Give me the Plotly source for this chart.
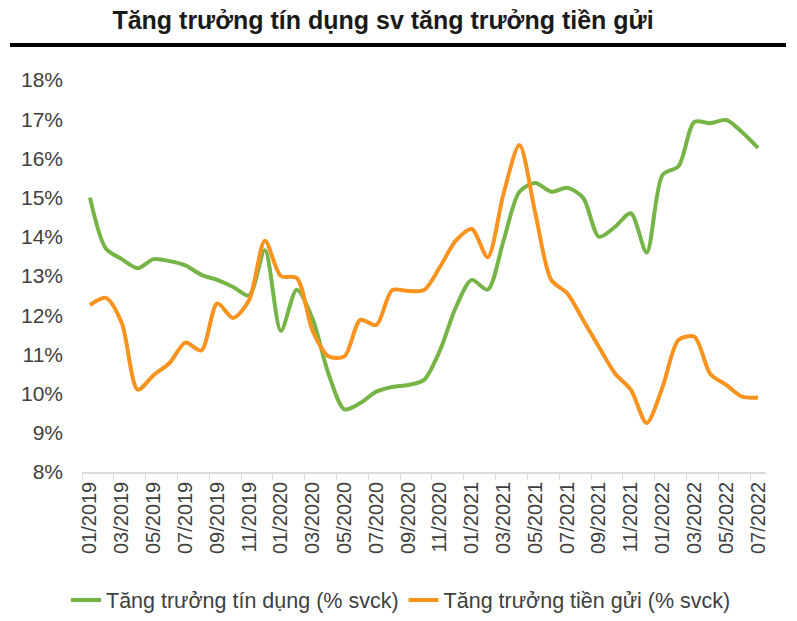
import plotly.graph_objects as go

months = []
for y in (2019, 2020, 2021, 2022):
    for m in range(1, 13):
        if y == 2022 and m > 7:
            break
        months.append(f"{m:02d}/{y}")

credit = [15.0, 13.7, 13.43, 13.2, 13.43, 13.38, 13.27, 13.03, 12.9, 12.72, 12.5, 13.66,
          11.6, 12.65, 11.9, 10.5, 9.6, 9.76, 10.05, 10.17, 10.22, 10.35, 11.1, 12.2,
          12.9, 12.65, 13.9, 15.15, 15.37, 15.15, 15.25, 15.0, 14.0, 14.25, 14.6, 13.6,
          15.58, 15.8, 16.93, 16.9, 16.98, 16.67, 16.27]
deposit = [12.26, 12.44, 11.8, 10.1, 10.47, 10.78, 11.3, 11.1, 12.3, 11.93, 12.38, 13.9,
           13.0, 12.95, 11.6, 10.95, 10.95, 11.88, 11.75, 12.64, 12.62, 12.64, 13.23, 13.9,
           14.2, 13.48, 15.1, 16.34, 14.6, 12.9, 12.56, 11.88, 11.19, 10.52, 10.1, 9.25,
           10.17, 11.37, 11.45, 10.5, 10.22, 9.92, 9.9]

name_credit = "Tăng trưởng tín dụng (% svck)"
name_deposit = "Tăng trưởng tiền gửi (% svck)"
title = "Tăng trưởng tín dụng sv tăng trưởng tiền gửi"

W, H = 797, 621
L, R, T, B = 82, 31, 80, 149
pw, ph = W - L - R, H - T - B

def px2x(px):
    return (px - L) / pw

def py2y(py):
    return (H - B - py) / ph

font = "Liberation Sans, Arial, sans-serif"

fig = go.Figure()
fig.add_trace(go.Scatter(x=months, y=credit, mode="lines", name=name_credit,
                         line=dict(color="#76B448", width=4, shape="spline", smoothing=0.8)))
fig.add_trace(go.Scatter(x=months, y=deposit, mode="lines", name=name_deposit,
                         line=dict(color="#F7931E", width=4, shape="spline", smoothing=0.8)))

fig.update_layout(
    width=W, height=H,
    margin=dict(l=L, r=R, t=T, b=B, autoexpand=False),
    paper_bgcolor="white", plot_bgcolor="white",
    font=dict(family=font, size=20, color="#404040"),
    title=dict(text=f"<b>{title}</b>", x=383 / W, xanchor="center",
               y=1 - 20 / H, yanchor="middle",
               font=dict(family=font, size=25, color="#1a1a1a")),
    showlegend=True,
    legend=dict(orientation="h", x=px2x(401), xanchor="center", y=py2y(600), yanchor="middle",
                font=dict(family=font, size=21.5, color="#404040"), itemwidth=30,
                tracegroupgap=0, bgcolor="rgba(0,0,0,0)"),
    xaxis=dict(type="category", tickmode="linear", dtick=2, tick0=0, automargin=False,
               tickson="boundaries", ticks="outside", ticklen=6, tickcolor="#d9d9d9",
               showline=True, linecolor="#d9d9d9", linewidth=1.5,
               showgrid=False, tickangle=-90, tickfont=dict(size=20, color="#404040"),
               range=[-0.5, len(months) - 0.5]),
    yaxis=dict(range=[8, 18], dtick=1, tick0=8, ticksuffix="%", showgrid=False,
               automargin=False,
               showline=False, zeroline=False, ticks="", ticklabelstandoff=18,
               tickfont=dict(size=21, color="#404040")),
    shapes=[dict(type="line", xref="paper", yref="paper",
                 x0=px2x(10), x1=px2x(786), y0=py2y(45), y1=py2y(45),
                 line=dict(color="black", width=4))],
)

fig.write_html("out.html")
